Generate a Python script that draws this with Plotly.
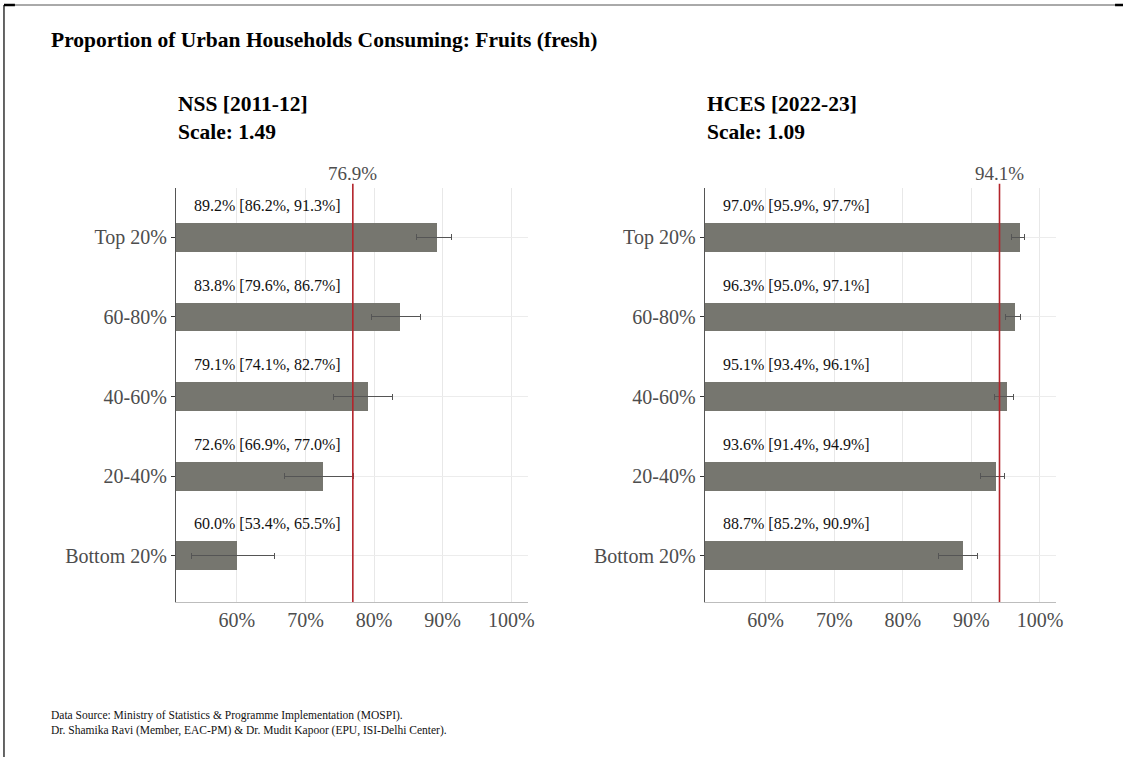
import plotly.graph_objects as go

categories = ["Bottom 20%", "20-40%", "40-60%", "60-80%", "Top 20%"]

nss_values = [60.0, 72.6, 79.1, 83.8, 89.2]
nss_low = [53.4, 66.9, 74.1, 79.6, 86.2]
nss_high = [65.5, 77.0, 82.7, 86.7, 91.3]
nss_mean = 76.9

hces_values = [88.7, 93.6, 95.1, 96.3, 97.0]
hces_low = [85.2, 91.4, 93.4, 95.0, 95.9]
hces_high = [90.9, 94.9, 96.1, 97.1, 97.7]
hces_mean = 94.1

x_ticks = [60, 70, 80, 90, 100]
x_tick_labels = ["60%", "70%", "80%", "90%", "100%"]

W, H = 1130, 757
SERIF = "Liberation Serif, Times New Roman, serif"
BAR = "#76766f"
RED = "#b3242b"
TXT = "#4d4d4d"

fig = go.Figure()

panels = [
    ("x", "y", nss_values, nss_low, nss_high, nss_mean, "NSS [2011-12]", "Scale: 1.49"),
    ("x2", "y2", hces_values, hces_low, hces_high, hces_mean, "HCES [2022-23]", "Scale: 1.09"),
]

ypos = list(range(1, len(categories) + 1))

for xa, ya, vals, lo, hi, mean, t1, t2 in panels:
    fig.add_trace(go.Bar(
        x=vals, y=ypos, orientation="h", xaxis=xa, yaxis=ya,
        marker=dict(color=BAR, line=dict(width=0)), width=0.36,
        error_x=dict(type="data", symmetric=False,
                     array=[h - v for h, v in zip(hi, vals)],
                     arrayminus=[v - l for v, l in zip(vals, lo)],
                     color="#555555", thickness=1, width=3),
        showlegend=False, hoverinfo="skip",
    ))
    for yp, v, l, h in zip(ypos, vals, lo, hi):
        fig.add_annotation(
            x=53.5, y=yp + 0.40, xref=xa, yref=ya, xanchor="left", yanchor="middle",
            text=f"{v:.1f}% [{l:.1f}%, {h:.1f}%]", showarrow=False,
            font=dict(family=SERIF, size=16, color="#111111"),
        )
    fig.add_shape(type="line", xref=xa, yref=f"{ya} domain", x0=mean, x1=mean,
                  y0=0, y1=1.01, line=dict(color=RED, width=1.6), layer="above")
    fig.add_annotation(
        x=mean, y=1.01, xref=xa, yref=f"{ya} domain", xanchor="center", yanchor="bottom",
        text=f"{mean:.1f}%", showarrow=False, yshift=-2,
        font=dict(family=SERIF, size=19, color=TXT),
    )
    fig.add_annotation(
        x=0, y=1 - 90 / H, xref=f"{xa} domain", yref="paper", xanchor="left", yanchor="top",
        text=f"<b>{t1}</b><br><b>{t2}</b>", showarrow=False, align="left",
        font=dict(family=SERIF, size=21.5, color="#000000"),
    )

axis_common_x = dict(
    range=[51.1, 102.4], tickvals=x_ticks, ticktext=x_tick_labels,
    showgrid=True, gridcolor="#e8e8e8", gridwidth=1, zeroline=False,
    showline=True, linecolor="#bdbdbd", linewidth=1, ticks="",
    tickfont=dict(family=SERIF, size=20, color=TXT),
)
axis_common_y = dict(
    range=[0.42, 5.62], tickvals=ypos, ticktext=categories,
    showgrid=True, gridcolor="#ececec", gridwidth=1, zeroline=False,
    showline=True, linecolor="#555555", linewidth=1,
    ticks="outside", ticklen=4, tickcolor="#333333",
    tickfont=dict(family=SERIF, size=20, color=TXT),
)

ydom = [1 - 602 / H, 1 - 188 / H]
fig.update_layout(
    width=W, height=H,
    margin=dict(l=0, r=0, t=0, b=0),
    paper_bgcolor="white", plot_bgcolor="white",
    bargap=0,
    xaxis=dict(axis_common_x, domain=[177 / W, 531 / W], anchor="y"),
    yaxis=dict(axis_common_y, domain=ydom, anchor="x"),
    xaxis2=dict(axis_common_x, domain=[709 / W, 1063 / W], anchor="y2"),
    yaxis2=dict(axis_common_y, domain=ydom, anchor="x2"),
)

fig.add_annotation(
    x=49 / W, y=1 - 40 / H, xref="paper", yref="paper", xanchor="left", yanchor="middle",
    text="<b>Proportion of Urban Households Consuming: Fruits (fresh)</b>", showarrow=False,
    font=dict(family=SERIF, size=21.5, color="#000000"),
)
fig.add_annotation(
    x=49 / W, y=1 - 707 / H, xref="paper", yref="paper", xanchor="left", yanchor="top",
    text="Data Source: Ministry of Statistics &amp; Programme Implementation (MOSPI).<br>"
         "Dr. Shamika Ravi (Member, EAC-PM) &amp; Dr. Mudit Kapoor (EPU, ISI-Delhi Center).",
    showarrow=False, align="left",
    font=dict(family=SERIF, size=11.5, color="#111111"),
)

# page border lines
fig.add_shape(type="line", xref="paper", yref="paper", x0=4 / W, x1=1124 / W,
              y0=1 - 5 / H, y1=1 - 5 / H, line=dict(color="#555555", width=1))
fig.add_shape(type="line", xref="paper", yref="paper", x0=4 / W, x1=4 / W,
              y0=0, y1=1 - 5 / H, line=dict(color="#333333", width=1.5))
fig.add_shape(type="line", xref="paper", yref="paper", x0=4 / W, x1=15 / W,
              y0=1 - 5 / H, y1=1 - 5 / H, line=dict(color="#000000", width=2.5))
fig.add_shape(type="line", xref="paper", yref="paper", x0=1122 / W, x1=1130 / W,
              y0=1 - 5 / H, y1=1 - 5 / H, line=dict(color="#000000", width=2.5))

fig.write_html(
    "out.html",
    config={"displayModeBar": False},
    post_script="document.body.style.margin='0px';document.body.style.overflow='hidden';",
)
